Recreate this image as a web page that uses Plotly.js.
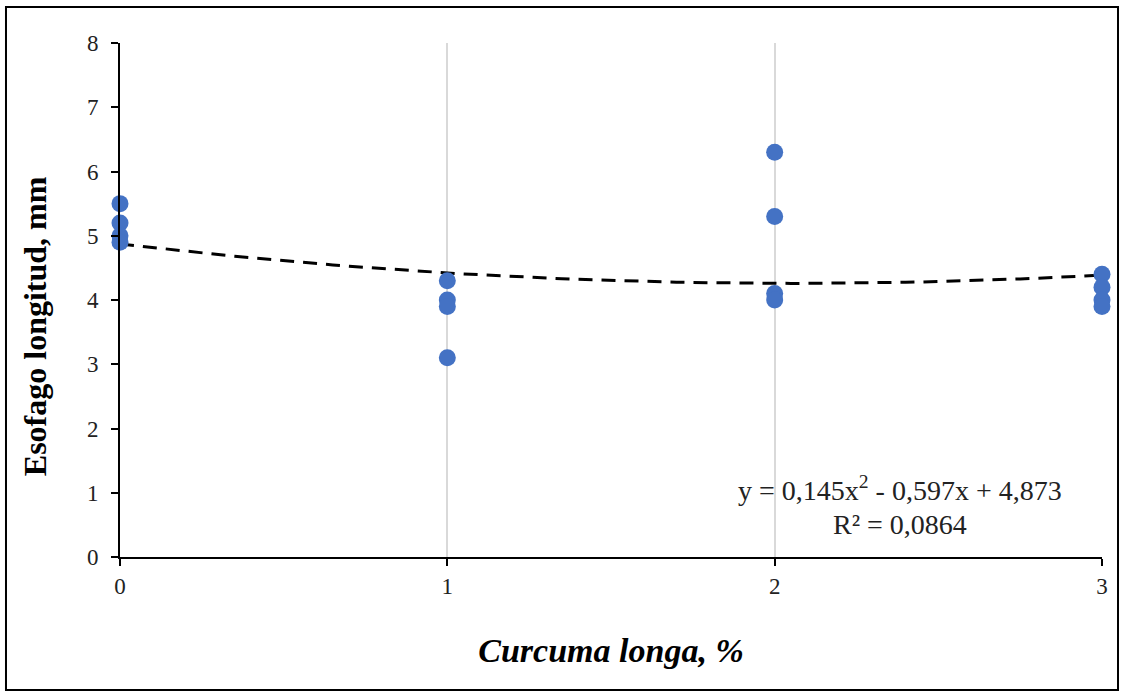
<!DOCTYPE html>
<html>
<head>
<meta charset="utf-8">
<script src="https://cdn.plot.ly/plotly-3.0.1.min.js"></script>
<style>html,body{margin:0;padding:0;background:#fff;}#chart{width:1121px;height:693px;}</style>
</head>
<body>
<div id="chart"></div>
<script>
// Curcuma longa level (%) and esophagus length (mm) observations
const curcumaLevel = [0, 0, 0, 0, 1, 1, 1, 1, 2, 2, 2, 2, 3, 3, 3, 3];
const esofagoLength = [5.5, 5.2, 5.0, 4.9, 4.3, 4.0, 3.9, 3.1, 6.3, 5.3, 4.1, 4.0, 4.4, 4.2, 4.0, 3.9];
// Polynomial trendline coefficients shown on the chart: y = a x^2 + b x + c
const trendCoef = [0.145, -0.597, 4.873];
const trendRange = [0, 3];
const xTickVals = [0, 1, 2, 3];
const yTickVals = [0, 1, 2, 3, 4, 5, 6, 7, 8];
const equationText = 'y = 0,145x<sup>2</sup> - 0,597x + 4,873';
const r2Text = 'R² = 0,0864';
const yTitleText = '<b>Esofago longitud, mm</b>';
const xTitleText = '<b><i>Curcuma longa, %</i></b>';

const trendX = [];
const trendY = [];
const steps = 60;
for (let i = 0; i <= steps; i++) {
  const x = trendRange[0] + (trendRange[1] - trendRange[0]) * i / steps;
  trendX.push(x);
  trendY.push(trendCoef[0] * x * x + trendCoef[1] * x + trendCoef[2]);
}

const traces = [
  {
    x: trendX, y: trendY, type: 'scatter', mode: 'lines',
    line: {color: '#000000', width: 3, dash: '14px,9px'},
    hoverinfo: 'skip', showlegend: false
  },
  {
    x: curcumaLevel, y: esofagoLength, type: 'scatter', mode: 'markers',
    marker: {color: '#4472C4', size: 17},
    showlegend: false, cliponaxis: false
  }
];

const serif = '"Liberation Serif", "Times New Roman", serif';
const layout = {
  width: 1121, height: 693,
  margin: {l: 120, r: 19, t: 43, b: 136},
  paper_bgcolor: '#ffffff', plot_bgcolor: '#ffffff',
  showlegend: false,
  xaxis: {
    range: [0, 3], tickvals: xTickVals, ticktext: xTickVals.map(String),
    showgrid: true, gridcolor: '#d9d9d9', gridwidth: 2,
    zeroline: false, showline: true, linecolor: '#000000', linewidth: 2,
    ticks: 'outside', ticklen: 7, tickwidth: 2, tickcolor: '#000000',
    tickfont: {family: serif, size: 23, color: '#222222'},
    title: {text: xTitleText, font: {family: serif, size: 34, color: '#000000'}, standoff: 41}
  },
  yaxis: {
    range: [0, 8], tickvals: yTickVals, ticktext: yTickVals.map(String),
    showgrid: false, zeroline: false, showline: true, linecolor: '#000000', linewidth: 2,
    ticks: 'outside', ticklen: 7, tickwidth: 2, tickcolor: '#000000', ticklabelstandoff: 8,
    tickfont: {family: serif, size: 23, color: '#222222'}
  },
  annotations: [
    {
      xref: 'paper', yref: 'paper', x: -0.0866, y: 0.449, xanchor: 'center', yanchor: 'middle',
      text: yTitleText, textangle: -90, showarrow: false,
      font: {family: serif, size: 32, color: '#000000'}
    },
    {
      xref: 'paper', yref: 'paper', x: 0.794, y: 0.1323, xanchor: 'center', yanchor: 'middle',
      text: equationText, showarrow: false,
      font: {family: serif, size: 28, color: '#222222'}
    },
    {
      xref: 'paper', yref: 'paper', x: 0.794, y: 0.0623, xanchor: 'center', yanchor: 'middle',
      text: r2Text, showarrow: false,
      font: {family: serif, size: 28, color: '#222222'}
    }
  ],
  shapes: [
    {
      type: 'rect', xref: 'paper', yref: 'paper',
      x0: -0.1161, x1: 1.0163, y0: -0.2588, y1: 1.070,
      line: {color: '#000000', width: 2}, fillcolor: 'rgba(0,0,0,0)', layer: 'above'
    }
  ]
};

Plotly.newPlot('chart', traces, layout, {displayModeBar: false, staticPlot: true});
</script>
</body>
</html>
